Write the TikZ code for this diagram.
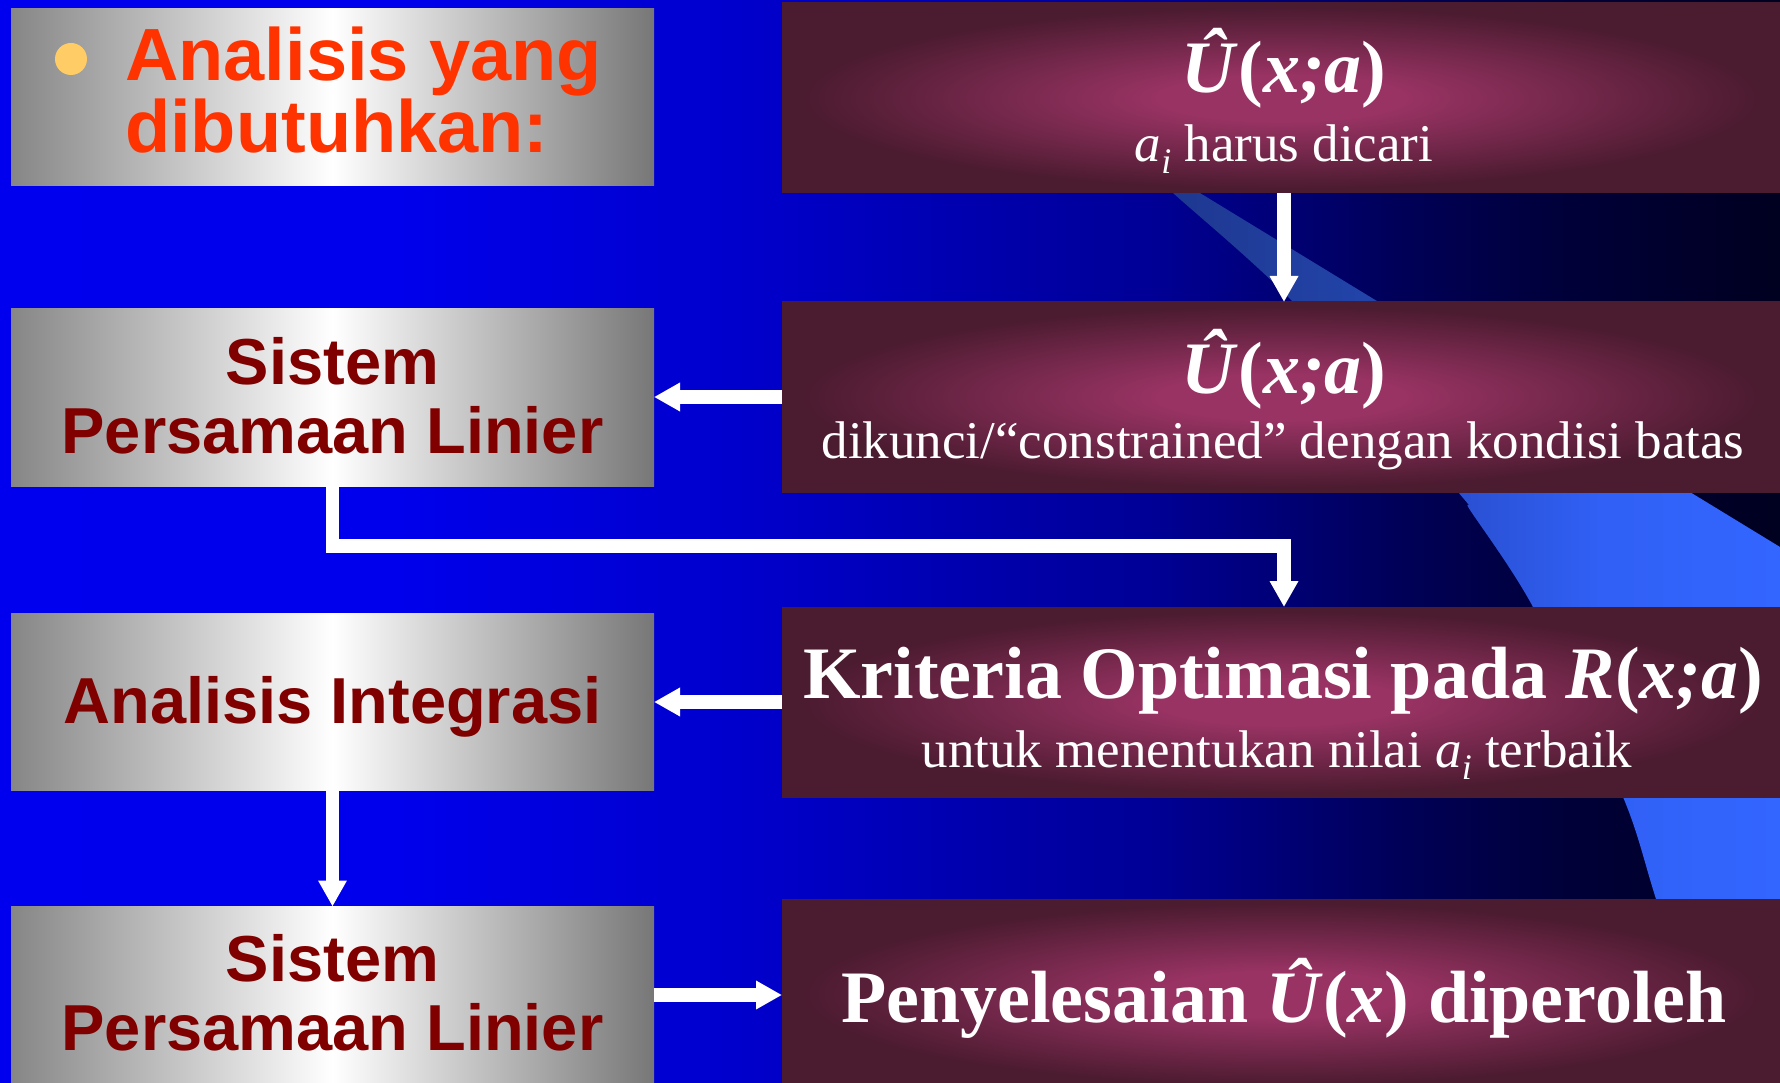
\documentclass[tikz,border=0pt]{standalone}
\usepackage{fontspec}
\setmainfont{Liberation Serif}
\setsansfont{Liberation Sans}
\usetikzlibrary{arrows.meta,calc}

\definecolor{grayL}{RGB}{134,134,134}
\definecolor{grayR}{RGB}{119,119,119}
\definecolor{maroonT}{RGB}{128,0,0}
\definecolor{titleT}{RGB}{255,51,0}
\definecolor{bulletC}{RGB}{255,204,102}

% slide background: bright blue on the left, fading to near black on the right
\pgfdeclarehorizontalshading{slidebg}{100bp}{%
  rgb(0bp)=(0,0,.933); rgb(25bp)=(0,0,.933); rgb(36.2bp)=(0,0,.925);
  rgb(46.9bp)=(0,0,.784); rgb(57.3bp)=(0,0,.588); rgb(64.3bp)=(0,0,.345);
  rgb(68.8bp)=(0,0,.227); rgb(75bp)=(0,0,.125); rgb(100bp)=(0,0,.125)}
% light blue ribbon behind the right column
\pgfdeclarehorizontalshading{ribbonblue}{100bp}{%
  rgb(0bp)=(.11,.204,.533); rgb(25bp)=(.11,.204,.533); rgb(29.15bp)=(.118,.22,.565);
  rgb(44.56bp)=(.133,.267,.667); rgb(50.83bp)=(.165,.314,.824);
  rgb(61.4bp)=(.188,.376,.961); rgb(75bp)=(.2,.4,1); rgb(100bp)=(.2,.4,1)}
% glowing plum boxes
\pgfdeclareradialshading{plumglow}{\pgfpointorigin}{%
  rgb(0bp)=(.6,.2,.39); rgb(6bp)=(.6,.2,.39); rgb(24bp)=(.294,.106,.188);
  rgb(50bp)=(.294,.106,.188)}

\tikzset{
  graybox/.style={rectangle, inner sep=0pt, outer sep=0pt,
    minimum width=643pt, minimum height=177pt,
    left color=grayL, right color=grayR, middle color=white},
  plumbox/.style={rectangle, inner sep=0pt, outer sep=0pt,
    minimum width=999pt, minimum height=190pt, shade, shading=plumglow},
  arr/.style={draw=white, line width=13.5pt, line join=miter,
    -{Triangle[length=26pt,width=27pt]}},
  lefttext/.style={inner sep=0pt, anchor=base, text=maroonT,
    font=\fontsize{65}{70}\selectfont\sffamily\bfseries},
  titletext/.style={inner sep=0pt, anchor=base west, text=titleT,
    font=\fontsize{74}{80}\selectfont\sffamily\bfseries},
  bigtext/.style={inner sep=0pt, anchor=base, text=white,
    font=\fontsize{74}{80}\selectfont\bfseries},
  smalltext/.style={inner sep=0pt, anchor=base, text=white,
    font=\fontsize{53}{58}\selectfont},
}

\newcommand{\subi}{\raisebox{-12pt}{\fontsize{36}{36}\selectfont\itshape i}}

\begin{document}
\begin{tikzpicture}[x=1pt,y=-1pt]
  \useasboundingbox (0,0) rectangle (1780,1083);
  \clip (0,0) rectangle (1780,1083);

  % background and ribbon
  \shade[shading=slidebg] (0,0) rectangle (1780,1083);
  \shade[shading=ribbonblue] (1118,143) -- (1780,547) -- (1780,1090) -- (1715,1090)
    -- plot[smooth, tension=0.45] coordinates {(1715,1083) (1656,899) (1623,797)
       (1533,607) (1470,510) (1458,492) (1293,302) (1173,193) (1118,143)} -- cycle;

  % left column
  \node[graybox] (g1) at (332.5,97.5) {};
  \node[graybox] (g2) at (332.5,397.5) {};
  \node[graybox] (g3) at (332.5,702) {};
  \node[graybox] (g4) at (332.5,995) {};

  % right column
  \node[plumbox] (p1) at (1281.5,98) {};
  \node[plumbox] (p2) at (1281.5,397) {};
  \node[plumbox] (p3) at (1281.5,702) {};
  \node[plumbox] (p4) at (1281.5,994) {};

  % connectors
  \coordinate (axis) at (1284,546);
  \draw[arr] (p1.south -| axis) -- (p2.north -| axis);
  \draw[arr] (p2.west) -- (p2.west -| g2.east);
  \draw[arr] (g2.south) |- (axis) -- (p3.north -| axis);
  \draw[arr] (p3.west) -- (p3.west -| g3.east);
  \draw[arr] (g3.south) -- (g4.north);
  \draw[arr] (g4.east) -- (g4.east -| p4.west);

  % left column texts
  \node[circle, fill=bulletC, minimum size=32pt, inner sep=0pt] (dot) at (71,59) {};
  \node[titletext] (tl1) at (125,81) {Analisis yang};
  \node[titletext] (tl2) at (125,153) {dibutuhkan:};
  \node[lefttext] (s2a) at (332.5,384) {Sistem};
  \node[lefttext] (s2b) at (332.5,453) {Persamaan Linier};
  \node[lefttext] (ai) at (332.5,723) {Analisis Integrasi};
  \node[lefttext] (s4a) at (332.5,981) {Sistem};
  \node[lefttext] (s4b) at (332.5,1050) {Persamaan Linier};

  % right column texts
  \node[bigtext] (u1) at (1284,93) {\itshape Û\textup{(}x;a\textup{)}};
  \node[smalltext] (u1b) at (1284,162) {\textit{a}\subi\ harus dicari};
  \node[bigtext] (u2) at (1284,393) {\itshape Û\textup{(}x;a\textup{)}};
  \node[smalltext] (u2b) at (1283,458) {dikunci/“constrained” dengan kondisi batas};
  \node[bigtext] (k1) at (1283,698) {Kriteria Optimasi pada \textit{R}(\textit{x;a})};
  \node[smalltext] (k2) at (1277,767) {untuk menentukan nilai \textit{a}\subi\ terbaik};
  \node[bigtext] (pe) at (1284,1022) {Penyelesaian \textit{Û}(\textit{x}) diperoleh};
\end{tikzpicture}
\end{document}
